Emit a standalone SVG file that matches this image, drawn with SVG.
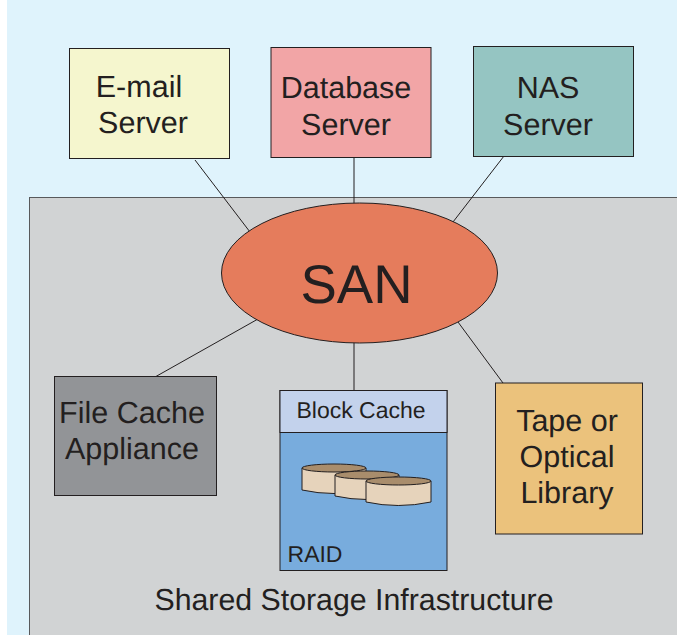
<svg xmlns="http://www.w3.org/2000/svg" width="677" height="635" viewBox="0 0 677 635">
<style>
text{font-family:"Liberation Sans",Arial,sans-serif;fill:#231f20;text-anchor:middle;text-rendering:geometricPrecision}
.b{stroke:#231f20;stroke-width:1}
.l{font-size:30.500px}
.c{stroke:#231f20;stroke-width:1;fill:none}
.d{stroke:#231f20;stroke-width:1;fill:#e6d3bb}
.t{stroke:#231f20;stroke-width:1;fill:#a98d6c}
</style>
<rect x="0" y="0" width="677" height="635" fill="#fff"/>
<rect x="7" y="0" width="670" height="635" fill="#dff3fc"/>
<g id="infrastructure">
<rect x="29.500" y="197.500" width="660" height="460" fill="#d1d3d4" stroke="#58595b" stroke-width="1"/>
<text x="354" y="610" font-size="30.300">Shared Storage Infrastructure</text>
</g>
<g id="connectors">
<line class="c" x1="195" y1="160" x2="250" y2="232"/>
<line class="c" x1="354" y1="158" x2="354" y2="204"/>
<line class="c" x1="504" y1="156" x2="453" y2="222"/>
<line class="c" x1="258" y1="319" x2="155" y2="377"/>
<line class="c" x1="354" y1="342" x2="354" y2="390"/>
<line class="c" x1="458" y1="322" x2="503" y2="383"/>
</g>
<g id="email-server">
<rect class="b" x="69.500" y="48.500" width="160" height="110" fill="#f5f6ce"/>
<text class="l" x="139" y="97">E-mail</text>
<text class="l" x="143" y="133">Server</text>
</g>
<g id="database-server">
<rect class="b" x="271" y="47.500" width="160" height="110" fill="#f2a5a6"/>
<text class="l" x="346" y="98">Database</text>
<text class="l" x="346" y="135">Server</text>
</g>
<g id="nas-server">
<rect class="b" x="473.500" y="46.500" width="160" height="110" fill="#95c5c2"/>
<text class="l" x="548" y="98">NAS</text>
<text class="l" x="548" y="135">Server</text>
</g>
<g id="san">
<ellipse cx="359.500" cy="273" rx="138" ry="70" fill="#e57c5c" stroke="#231f20" stroke-width="1"/>
<text x="356.500" y="303" font-size="54.500">SAN</text>
</g>
<g id="file-cache">
<rect class="b" x="54.500" y="376.500" width="162" height="119" fill="#929497"/>
<text class="l" x="132" y="423">File Cache</text>
<text class="l" x="132" y="459">Appliance</text>
</g>
<g id="raid">
<rect class="b" x="280" y="390.500" width="167" height="180" fill="#78acdd"/>
<rect class="b" x="280" y="390.500" width="167" height="42" fill="#c3d2ec"/>
<text x="361" y="418" font-size="23">Block Cache</text>
<text x="315" y="562" font-size="23">RAID</text>
<g id="disk1"><path class="d" d="M302 468V490Q334 497 366 490V468Z"/><ellipse class="t" cx="334" cy="468" rx="32" ry="4"/></g>
<g id="disk2"><path class="d" d="M335 475V496Q367 503 399 496V475Z"/><ellipse class="t" cx="367" cy="475" rx="32" ry="4"/></g>
<g id="disk3"><path class="d" d="M366 481V502Q398 509 431 502V481Z"/><ellipse class="t" cx="398.500" cy="481" rx="32.500" ry="4"/></g>
</g>
<g id="tape-library">
<rect class="b" x="495.500" y="383" width="147" height="151" fill="#ebc27c"/>
<text class="l" x="567" y="431">Tape or</text>
<text class="l" x="567" y="467">Optical</text>
<text class="l" x="567" y="503">Library</text>
</g>
</svg>
